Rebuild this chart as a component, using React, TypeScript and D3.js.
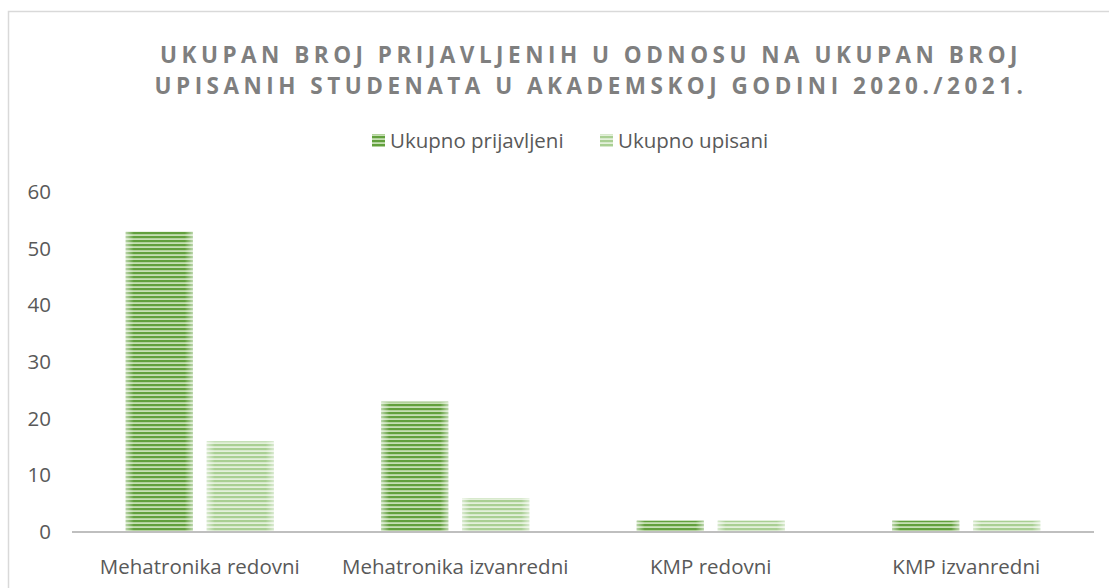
import React from "react";
import * as d3 from "d3";

const categories = ["Mehatronika redovni", "Mehatronika izvanredni", "KMP redovni", "KMP izvanredni"];
const seriesNames = ["Ukupno prijavljeni", "Ukupno upisani"];
const prijavljeni = [53, 23, 2, 2];
const upisani = [16, 6, 2, 2];
const yTicks = [0, 10, 20, 30, 40, 50, 60];
const titleLines = [
  "UKUPAN BROJ PRIJAVLJENIH U ODNOSU NA UKUPAN BROJ",
  "UPISANIH STUDENATA U AKADEMSKOJ GODINI 2020./2021.",
];

const W = 1109;
const H = 588;
const font = "Open Sans, Noto Sans, sans-serif";
const textColor = "#595959";

export default function App() {
  const x = d3.scaleBand<string>().domain(categories).range([72, 1094]);
  const y = d3.scaleLinear().domain([0, 60]).range([532, 192]);
  const bw = 67;
  const gap = 14;
  const outer = (x.bandwidth() - 2 * bw - gap) / 2;
  const series = [prijavljeni, upisani];
  const fills = ["url(#patDark)", "url(#patLight)"];
  const legendX = [372, 600];
  return (
    <svg width={W} height={H} style={{ position: "absolute", left: 0, top: 0 }}>
      <defs>
        <pattern id="patDark" patternUnits="userSpaceOnUse" width="8" height="4">
          <rect width="8" height="4" fill="#c6dfb4" />
          <rect width="8" height="2.2" fill="#62a03d" />
        </pattern>
        <pattern id="patLight" patternUnits="userSpaceOnUse" width="8" height="4">
          <rect width="8" height="4" fill="#e3f0da" />
          <rect width="8" height="2.2" fill="#a9cf93" />
        </pattern>
        <linearGradient id="edgeFade" x1="0" x2="1" y1="0" y2="0">
          <stop offset="0" stopColor="#fff" stopOpacity={0.55} />
          <stop offset="0.12" stopColor="#fff" stopOpacity={0} />
          <stop offset="0.88" stopColor="#fff" stopOpacity={0} />
          <stop offset="1" stopColor="#fff" stopOpacity={0.55} />
        </linearGradient>
      </defs>
      <rect x={0} y={0} width={W} height={H} fill="#fff" />
      <rect x={8.5} y={11.5} width={W + 10} height={H + 10} fill="none" stroke="#d9d9d9" strokeWidth={1.5} />
      {titleLines.map((t, i) => (
        <text key={i} x={591} y={63 + i * 31} textAnchor="middle" fontFamily={font} fontWeight={700}
          fontSize={22.5} letterSpacing={4.5} fill="#7f7f7f">{t}</text>
      ))}
      {seriesNames.map((s, i) => {
        const lx = legendX[i];
        return (
          <g key={s}>
            <rect x={lx} y={134} width={13} height={13} fill={fills[i]} />
            <text x={lx + 18} y={148} fontFamily={font} fontSize={20.5} fill={textColor}>{s}</text>
          </g>
        );
      })}
      {yTicks.map((t) => (
        <text key={t} x={51} y={y(t) + 7} textAnchor="end" fontFamily={font} fontSize={20.5} fill={textColor}>{t}</text>
      ))}
      {categories.map((c, ci) => (
        <g key={c}>
          {series.map((vals, si) => {
            const bx = (x(c) as number) + outer + si * (bw + gap);
            const by = y(vals[ci]);
            const bh = y(0) - by;
            return (
              <g key={si}>
                <rect x={bx} y={by} width={bw} height={bh} fill={fills[si]} />
                <rect x={bx} y={by} width={bw} height={bh} fill="url(#edgeFade)" />
              </g>
            );
          })}
          <text x={(x(c) as number) + x.bandwidth() / 2} y={574} textAnchor="middle" fontFamily={font} fontSize={20.5} fill={textColor}>{c}</text>
        </g>
      ))}
      <line x1={72} x2={1094} y1={y(0)} y2={y(0)} stroke="#bfbfbf" strokeWidth={2} />
    </svg>
  );
}
